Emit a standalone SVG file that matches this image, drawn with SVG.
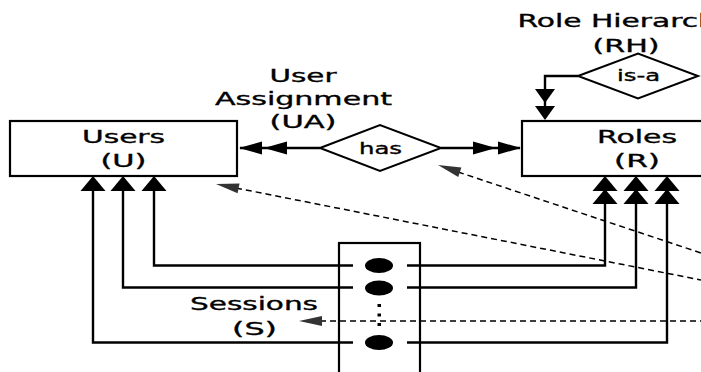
<svg xmlns="http://www.w3.org/2000/svg" width="701" height="372" viewBox="0 0 701 372">
<style>
.box{fill:#fff;stroke:#000;stroke-width:2.2}
.open{fill:none;stroke:#000;stroke-width:2.2}
.dia{fill:#fff;stroke:#000;stroke-width:2}
.t{font-family:"DejaVu Sans",Verdana,sans-serif;font-size:18px;text-anchor:middle;fill:#000;stroke:#000;stroke-width:0.35}
.s{font-size:16px}
.ln{fill:none;stroke:#000;stroke-width:2.4}
.dash{fill:none;stroke:#000;stroke-width:1.5;stroke-dasharray:6,4}
.ah{fill:#000}
.dah{fill:#333}
</style>
<defs>
<path id="up" d="M0,0 L12.5,15 L-12.5,15 Z"/>
<path id="dn" d="M0,0 L-10,-14 L10,-14 Z"/>
<path id="lf" d="M0,0 L23,-6.5 L23,6.5 Z"/>
<path id="rt" d="M0,0 L-23,-6.5 L-23,6.5 Z"/>
<path id="da" d="M0,0 L23,-5 L23,5 Z"/>
</defs>

<g id="users">
  <rect class="box" x="10" y="121" width="227" height="55"/>
  <text class="t" x="123.5" y="143" textLength="83" lengthAdjust="spacingAndGlyphs">Users</text>
  <text class="t" x="123.5" y="167" textLength="46" lengthAdjust="spacingAndGlyphs">(U)</text>
</g>

<g id="roles">
  <rect class="box" x="522" y="121" width="200" height="55"/>
  <text class="t" x="637" y="143" textLength="80" lengthAdjust="spacingAndGlyphs">Roles</text>
  <text class="t" x="637" y="167" textLength="46" lengthAdjust="spacingAndGlyphs">(R)</text>
</g>

<g id="sessions">
  <rect class="open" x="339" y="243" width="81" height="150"/>
  <ellipse cx="379" cy="265.5" rx="14" ry="7.5" fill="#000"/>
  <ellipse cx="379" cy="288" rx="14" ry="7.5" fill="#000"/>
  <ellipse cx="379" cy="342.5" rx="14" ry="7.5" fill="#000"/>
  <rect x="377.5" y="304" width="3.5" height="3" fill="#000"/>
  <rect x="377.5" y="313.5" width="3.5" height="3" fill="#000"/>
  <rect x="377.5" y="323" width="3.5" height="3" fill="#000"/>
  <text class="t" x="254" y="310" textLength="128" lengthAdjust="spacingAndGlyphs">Sessions</text>
  <text class="t" x="254.5" y="335" textLength="45" lengthAdjust="spacingAndGlyphs">(S)</text>
</g>

<g id="connectors">
  <!-- UA -->
  <line class="ln" x1="320" y1="148" x2="240" y2="148"/>
  <use href="#lf" class="ah" x="239" y="148"/>
  <use href="#lf" class="ah" x="264" y="148"/>
  <line class="ln" x1="441" y1="148" x2="520" y2="148"/>
  <use href="#rt" class="ah" x="496" y="148"/>
  <use href="#rt" class="ah" x="521" y="148"/>
  <!-- RH -->
  <polyline class="ln" points="578,76 545,76 545,118"/>
  <use href="#dn" class="ah" x="545" y="103"/>
  <use href="#dn" class="ah" x="545" y="120"/>
  <!-- session to users -->
  <path class="ln" d="M353,265.5 H154 V186"/>
  <path class="ln" d="M353,287.5 H123 V186"/>
  <path class="ln" d="M353,342.5 H93 V186"/>
  <use href="#up" class="ah" x="154" y="176"/>
  <use href="#up" class="ah" x="123" y="176"/>
  <use href="#up" class="ah" x="93" y="176"/>
  <!-- session to roles -->
  <path class="ln" d="M407,265.5 H605 V190"/>
  <path class="ln" d="M407,287.5 H636 V190"/>
  <path class="ln" d="M407,342.5 H667 V190"/>
  <use href="#up" class="ah" x="605" y="176"/>
  <use href="#up" class="ah" x="605" y="189"/>
  <use href="#up" class="ah" x="636" y="176"/>
  <use href="#up" class="ah" x="636" y="189"/>
  <use href="#up" class="ah" x="667" y="176"/>
  <use href="#up" class="ah" x="667" y="189"/>
  <!-- dashed -->
  <line class="dash" x1="236" y1="188" x2="701" y2="280"/>
  <use href="#da" class="dah" transform="translate(216,184) rotate(11.2)"/>
  <line class="dash" x1="458" y1="172" x2="701" y2="253"/>
  <use href="#da" class="dah" transform="translate(438,165) rotate(18.5)"/>
  <line class="dash" x1="320" y1="321" x2="701" y2="321"/>
  <use href="#da" class="dah" transform="translate(299,321)"/>
</g>

<g id="user-assignment">
  <text class="t" x="303" y="82" textLength="67" lengthAdjust="spacingAndGlyphs">User</text>
  <text class="t" x="303.5" y="105" textLength="177" lengthAdjust="spacingAndGlyphs">Assignment</text>
  <text class="t" x="303" y="128" textLength="67" lengthAdjust="spacingAndGlyphs">(UA)</text>
  <polygon class="dia" points="320,148 380,125 441,148 380,171"/>
  <text class="t s" x="380.5" y="153.5" textLength="43" lengthAdjust="spacingAndGlyphs">has</text>
</g>

<g id="role-hierarchy">
  <text class="t" x="626" y="27" textLength="217" lengthAdjust="spacingAndGlyphs">Role Hierarchy</text>
  <text class="t" x="626" y="52" textLength="67" lengthAdjust="spacingAndGlyphs">(RH)</text>
  <polygon class="dia" points="578,76 638,53.5 698,76 638,98.5"/>
  <text class="t s" x="638.5" y="81" textLength="43" lengthAdjust="spacingAndGlyphs">is-a</text>
</g>
</svg>
